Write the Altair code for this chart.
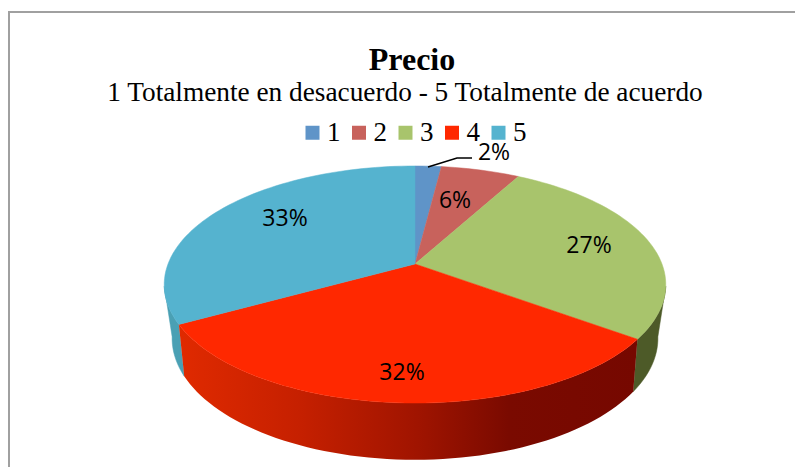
import math
import altair as alt
import pandas as pd

categories = ["1", "2", "3", "4", "5"]
shares = [2, 6, 27, 32, 33]
colors = ["#5F94C8", "#C8625C", "#A8C46C", "#FF2800", "#55B3CF"]
wall_colors = ["#3F6488", "#86423E", "#4D5A28", "#7A0A00", "#4AA0B4"]
label_text = ["2%", "6%", "27%", "32%", "33%"]
label_x = [494, 455, 589, 402, 285]
label_y = [153, 201, 246, 373, 219]
title_text = "Precio"
subtitle_text = "1 Totalmente en desacuerdo - 5 Totalmente de acuerdo"

# perspective projection of the disc onto the page
CX = 415
TOP = dict(ay=264, A=115, B=247, k=0.173)
BOTTOM = dict(ay=314, A=116.6, B=238, k=0.2)


def project(pct, p):
    th = math.radians(pct * 3.6)
    u, v = math.sin(th), math.cos(th)
    d = 1 + p["k"] * v
    return CX + p["B"] * u / d, p["ay"] - p["A"] * v / d


def arc(a, b, p, step=0.5):
    n = max(2, int(abs(b - a) / step))
    return [project(a + (b - a) * i / n, p) for i in range(n + 1)]


def poly(points):
    return pd.DataFrame({"x": [q[0] for q in points] + [points[0][0]],
                         "y": [q[1] for q in points] + [points[0][1]],
                         "i": range(len(points) + 1)})


W, H = 787, 459
xs = alt.Scale(domain=[8, 8 + W], nice=False, zero=False)
ys = alt.Scale(domain=[8 + H, 8], nice=False, zero=False)
X = alt.X("x:Q", scale=xs, axis=None)
Y = alt.Y("y:Q", scale=ys, axis=None)
ORDER = alt.Order("i:Q")

starts = [sum(shares[:i]) for i in range(len(shares))]
ends = [sum(shares[:i + 1]) for i in range(len(shares))]
layers = []

# frame: top and left edges only
frame = pd.DataFrame({"x": [9, 9, 795], "y": [467, 12, 12], "i": [0, 1, 2]})
layers.append(alt.Chart(frame).mark_line(color="#A0A0A0", strokeWidth=2, clip=False).encode(x=X, y=Y, order=ORDER))

# walls: 5 (left), 3 (right), 4 (front, with shading)
blue = arc(starts[4], 72, TOP) + arc(72, starts[4], BOTTOM)
layers.append(alt.Chart(poly(blue)).mark_line(fill=wall_colors[4], stroke=wall_colors[4], strokeWidth=0.5).encode(x=X, y=Y, order=ORDER))
green = arc(28, ends[2], TOP) + arc(ends[2], 28, BOTTOM)
layers.append(alt.Chart(poly(green)).mark_line(fill=wall_colors[2], stroke=wall_colors[2], strokeWidth=0.5).encode(x=X, y=Y, order=ORDER))
red = arc(starts[3], ends[3], TOP) + arc(ends[3], starts[3], BOTTOM)
red_grad = alt.Gradient(
    gradient="linear", x1=0, x2=1, y1=0, y2=0,
    stops=[
        alt.GradientStop(offset=0, color="#E02A00"),
        alt.GradientStop(offset=0.26, color="#C62000"),
        alt.GradientStop(offset=0.52, color="#A01400"),
        alt.GradientStop(offset=0.72, color="#7A0A00"),
        alt.GradientStop(offset=1, color="#760800"),
    ],
)
layers.append(alt.Chart(poly(red)).mark_line(fill=red_grad, strokeWidth=0, stroke="transparent").encode(x=X, y=Y, order=ORDER))

# top faces, with the legend attached
frames = []
for c, a, b in zip(categories, starts, ends):
    d = poly([(CX, TOP["ay"])] + arc(a, b, TOP))
    d["cat"] = c
    frames.append(d)
faces = pd.concat(frames, ignore_index=True)
legend = alt.Legend(
    orient="none", legendX=291, legendY=111, direction="horizontal", columns=5,
    title=None, symbolType="square", symbolSize=196, symbolStrokeWidth=0,
    labelFont="Liberation Serif", labelFontSize=27, labelColor="#000000",
    labelOffset=1, columnPadding=4.5, padding=0, symbolOpacity=1,
)
layers.append(
    alt.Chart(faces).mark_line(strokeWidth=0.5).encode(
        x=X, y=Y, order=ORDER,
        fill=alt.Fill("cat:N", scale=alt.Scale(domain=categories, range=colors), legend=legend),
        stroke=alt.Stroke("cat:N", scale=alt.Scale(domain=categories, range=colors), legend=None),
    )
)

# leader line of the 2% label
leader = pd.DataFrame({"x": [428, 457, 472], "y": [167, 158, 158], "i": [0, 1, 2]})
layers.append(alt.Chart(leader).mark_line(color="#000000", strokeWidth=1.5).encode(x=X, y=Y, order=ORDER))

labels = pd.DataFrame({"x": label_x, "y": label_y, "t": label_text})
layers.append(
    alt.Chart(labels).mark_text(font="Open Sans", fontSize=23, color="#000000", align="center", baseline="middle")
    .encode(x=X, y=Y, text="t:N")
)

# second line of the heading, centred a little left of the first in the reference
sub = pd.DataFrame({"x": [405], "y": [93], "t": [subtitle_text]})
layers.append(
    alt.Chart(sub).mark_text(font="Liberation Serif", fontSize=27.3, color="#000000", align="center", baseline="middle")
    .encode(x=X, y=Y, text="t:N")
)

chart = (
    alt.layer(*layers)
    .properties(
        width=W, height=H, padding=0,
        autosize=alt.AutoSizeParams(type="none"),
        title=alt.TitleParams(
            text=title_text, anchor="middle", orient="top", offset=-69,
            font="Liberation Serif", fontSize=32, fontWeight="bold", color="#000000",
            dx=10.5,
        ),
    )
    .configure_view(stroke=None)
)
chart.save("out.html", embed_options={"renderer": "svg", "actions": False})
